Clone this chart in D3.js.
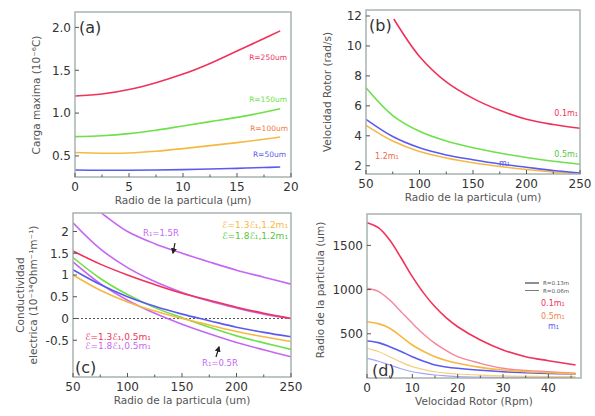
<!DOCTYPE html>
<html lang="es">
<head>
  <meta charset="UTF-8">
  <title>Cuatro paneles</title>
  <style>
    body { margin: 0; background: #fff; }
    svg { font-family: "DejaVu Sans", sans-serif; }
    .tick-label { fill: #333; font-size: 12px; }
    .axis-title { fill: #555; font-size: 10.5px; }
    .panel-tag { fill: #333; font-size: 16px; }
  </style>
</head>
<body>
  <div id="chart"></div>
  <script src="https://d3js.org/d3.v7.min.js"></script>
  <script>
    // Panel (a): carga maxima vs radio de la particula
    const aX = [0, 2.5, 5, 7.5, 10, 12.5, 15, 17.5, 19];
    const aR250 = [1.2, 1.222, 1.275, 1.355, 1.455, 1.58, 1.725, 1.87, 1.96];
    const aR150 = [0.725, 0.735, 0.76, 0.8, 0.85, 0.9, 0.95, 1.01, 1.05];
    const aR100 = [0.54, 0.532, 0.535, 0.555, 0.585, 0.62, 0.655, 0.695, 0.72];
    const aR50 = [0.335, 0.333, 0.333, 0.335, 0.34, 0.348, 0.355, 0.365, 0.37];

    // Panel (b): velocidad rotor vs radio
    const bX = [50, 75, 100, 125, 150, 175, 200, 225, 250];
    const bRedX = [76, 100, 125, 150, 175, 200, 225, 250];
    const b01 = [11.8, 9.3, 7.6, 6.5, 5.7, 5.1, 4.75, 4.5];
    const b05 = [7.2, 5.35, 4.3, 3.65, 3.2, 2.85, 2.55, 2.3, 2.1];
    const b1 = [5.1, 3.95, 3.2, 2.72, 2.4, 2.12, 1.9, 1.68, 1.52];
    const b12 = [4.7, 3.65, 2.95, 2.52, 2.2, 1.95, 1.75, 1.58, 1.46];

    // Panel (c): conductividad electrica vs radio
    const cX = [50, 75, 100, 125, 150, 175, 200, 225, 250];
    const cTopX = [70, 80, 100, 125, 150, 175, 200, 225, 250];
    const cR15 = [2.55, 2.35, 2.0, 1.72, 1.5, 1.3, 1.11, 0.95, 0.79];
    const cPurple = [2.2, 1.6, 1.17, 0.85, 0.6, 0.4, 0.24, 0.1, 0.0];
    const cRed = [1.55, 1.25, 1.0, 0.78, 0.58, 0.42, 0.26, 0.12, 0.0];
    const cGreen = [1.4, 0.92, 0.55, 0.25, 0.02, -0.2, -0.4, -0.56, -0.71];
    const cR05 = [1.3, 0.8, 0.42, 0.12, -0.13, -0.35, -0.55, -0.72, -0.88];
    const cBlue = [1.12, 0.78, 0.5, 0.28, 0.1, -0.05, -0.2, -0.32, -0.42];
    const cOrange = [1.0, 0.65, 0.38, 0.17, 0.0, -0.15, -0.3, -0.42, -0.53];

    // Panel (d): radio de la particula vs velocidad rotor
    const dX = [0, 2.5, 5, 7.5, 10, 12.5, 15, 17.5, 20, 25, 30, 35, 40, 46];
    const dRed13 = [1757, 1700, 1561, 1360, 1146, 960, 806, 680, 580, 430, 317, 241, 196, 147];
    const dRed06 = [1015, 980, 882, 750, 618, 495, 392, 310, 241, 166, 110, 85, 71, 53];
    const dOr13 = [637, 615, 562, 470, 373, 300, 241, 198, 166, 120, 90, 72, 60, 45];
    const dOr06 = [336, 300, 241, 180, 128, 95, 71, 55, 45, 32, 23, 19, 17, 15];
    const dBlue13 = [418, 400, 354, 300, 241, 190, 147, 125, 110, 88, 71, 60, 52, 45];
    const dBlue06 = [222, 190, 147, 105, 71, 50, 34, 24, 15, 10, 7, 5, 4, 3];

    const RED = "#f0325a", GREEN = "#6ee04a", ORANGE = "#f5b942", BLUE = "#5a5af0", PURPLE = "#c467f2";

    const svg = d3.select("#chart").append("svg")
      .attr("width", 595).attr("height", 416);

    function drawPanel(p) {
      const x = d3.scaleLinear().domain(p.xDomain).range([p.left, p.right]);
      const y = d3.scaleLinear().domain(p.yDomain).range([p.bottom, p.top]);
      const g = svg.append("g");

      g.append("clipPath").attr("id", "clip-" + p.id)
        .append("rect").attr("x", p.left).attr("y", p.top)
        .attr("width", p.right - p.left).attr("height", p.bottom - p.top);

      const body = g.append("g").attr("clip-path", `url(#clip-${p.id})`);
      const line = d3.line().x(d => x(d[0])).y(d => y(d[1])).curve(d3.curveCatmullRom.alpha(0.5));

      if (p.zeroLine) {
        body.append("line")
          .attr("x1", p.left).attr("x2", p.right)
          .attr("y1", y(0)).attr("y2", y(0))
          .attr("stroke", "#555").attr("stroke-width", 1.2)
          .attr("stroke-dasharray", "2,2");
      }

      p.series.forEach(s => {
        body.append("path")
          .datum(s.xs.map((v, i) => [v, s.ys[i]]))
          .attr("fill", "none")
          .attr("stroke", s.color)
          .attr("stroke-width", s.width || 1.6)
          .attr("stroke-opacity", s.opacity || 1)
          .attr("d", line);
      });

      // frame
      g.append("rect")
        .attr("x", p.left).attr("y", p.top)
        .attr("width", p.right - p.left).attr("height", p.bottom - p.top)
        .attr("fill", "none").attr("stroke", "#a3aeab").attr("stroke-width", 1.4);

      // ticks (inside) + labels
      const xMinor = d3.range(p.xDomain[0], p.xDomain[1] + 1e-9, p.xMinor);
      xMinor.forEach(v => {
        const major = p.xTicks.some(t => Math.abs(t - v) < 1e-9);
        g.append("line").attr("x1", x(v)).attr("x2", x(v))
          .attr("y1", p.bottom).attr("y2", p.bottom - (major ? 4 : 2.5))
          .attr("stroke", "#555").attr("stroke-width", 1);
      });
      p.xTicks.forEach(v => {
        g.append("text").attr("class", "tick-label")
          .attr("x", x(v)).attr("y", p.bottom + 14)
          .attr("text-anchor", "middle").text(p.xFormat(v));
      });
      p.yTicks.forEach(v => {
        g.append("line").attr("x1", p.left).attr("x2", p.left + 4)
          .attr("y1", y(v)).attr("y2", y(v))
          .attr("stroke", "#555").attr("stroke-width", 1);
        g.append("text").attr("class", "tick-label")
          .attr("x", p.left - 4).attr("y", y(v) + 4.3)
          .attr("text-anchor", "end").text(p.yFormat(v));
      });

      g.append("text").attr("class", "axis-title")
        .attr("x", (p.left + p.right) / 2).attr("y", p.bottom + 27)
        .attr("text-anchor", "middle").text(p.xTitle);

      p.yTitle.forEach((t, i) => {
        g.append("text").attr("class", "axis-title")
          .attr("transform", `translate(${p.yTitleX[i]},${p.yTitleY}) rotate(-90)`)
          .attr("text-anchor", "middle").text(t);
      });

      g.append("text").attr("class", "panel-tag")
        .attr("x", p.tag[1]).attr("y", p.tag[2]).text(p.tag[0]);

      (p.labels || []).forEach(l => {
        g.append("text")
          .attr("x", l.x).attr("y", l.y)
          .attr("text-anchor", l.anchor || "start")
          .attr("font-size", l.size || 7.5)
          .attr("fill", l.color).text(l.text);
      });

      return { x, y, g };
    }

    // (a)
    drawPanel({
      id: "a", left: 75, right: 291, top: 12, bottom: 177,
      xDomain: [0, 20], yDomain: [0.254, 2.18],
      xTicks: [0, 5, 10, 15, 20], xMinor: 2.5, xFormat: d3.format("d"),
      yTicks: [0.5, 1.0, 1.5, 2.0], yFormat: d3.format(".1f"),
      xTitle: "Radio de la particula (\u00b5m)",
      yTitle: ["Carga maxima (10\u207b\u2076C)"], yTitleX: [40], yTitleY: 95,
      tag: ["(a)", 79, 33],
      series: [
        { xs: aX, ys: aR250, color: RED },
        { xs: aX, ys: aR150, color: GREEN },
        { xs: aX, ys: aR100, color: ORANGE },
        { xs: aX, ys: aR50, color: BLUE }
      ],
      labels: [
        { text: "R=250um", x: 287, y: 60, anchor: "end", color: RED },
        { text: "R=150um", x: 287, y: 102, anchor: "end", color: GREEN },
        { text: "R=100um", x: 288, y: 131, anchor: "end", color: "#f07a3c" },
        { text: "R=50um", x: 286, y: 157, anchor: "end", color: BLUE }
      ]
    });

    // (b)
    drawPanel({
      id: "b", left: 366, right: 580, top: 10, bottom: 174,
      xDomain: [50, 250], yDomain: [1.45, 12.4],
      xTicks: [50, 100, 150, 200, 250], xMinor: 25, xFormat: d3.format("d"),
      yTicks: [2, 4, 6, 8, 10, 12], yFormat: d3.format("d"),
      xTitle: "Radio de la particula (um)",
      yTitle: ["Velocidad Rotor  (rad/s)"], yTitleX: [331], yTitleY: 92,
      tag: ["(b)", 369, 31],
      series: [
        { xs: bRedX, ys: b01, color: RED },
        { xs: bX, ys: b05, color: GREEN },
        { xs: bX, ys: b12, color: ORANGE },
        { xs: bX, ys: b1, color: BLUE }
      ],
      labels: [
        { text: "0.1m\u2081", x: 578, y: 116, anchor: "end", color: RED, size: 8 },
        { text: "0.5m\u2081", x: 578, y: 157, anchor: "end", color: "#55c83a", size: 8 },
        { text: "m\u2081", x: 499, y: 166, color: BLUE, size: 8 },
        { text: "1.2m\u2081", x: 375, y: 159, color: "#f06a4a", size: 8 }
      ]
    });

    // (c)
    const pc = drawPanel({
      id: "c", left: 73, right: 291, top: 213, bottom: 377,
      xDomain: [50, 250], yDomain: [-1.345, 2.425],
      xTicks: [50, 100, 150, 200, 250], xMinor: 25, xFormat: d3.format("d"),
      yTicks: [-0.5, 0, 0.5, 1, 1.5, 2], yFormat: v => String(v),
      xTitle: "Radio de la particula (um)",
      yTitle: ["Conductividad", "electrica (10\u207b\u00b9\u2074Ohm\u207b\u00b9m\u207b\u00b9)"],
      yTitleX: [24, 37], yTitleY: 295,
      tag: ["(c)", 75, 373],
      zeroLine: true,
      series: [
        { xs: cTopX, ys: cR15, color: PURPLE },
        { xs: cX, ys: cPurple, color: PURPLE },
        { xs: cX, ys: cRed, color: RED },
        { xs: cX, ys: cR05, color: PURPLE },
        { xs: cX, ys: cGreen, color: GREEN },
        { xs: cX, ys: cOrange, color: ORANGE },
        { xs: cX, ys: cBlue, color: BLUE }
      ],
      labels: [
        { text: "\u2130=1.3\u2130\u2081,1.2m\u2081", x: 288, y: 228, anchor: "end", color: ORANGE, size: 9 },
        { text: "\u2130=1.8\u2130\u2081,1.2m\u2081", x: 288, y: 239, anchor: "end", color: "#55c83a", size: 9 },
        { text: "\u2130=1.3\u2130\u2081,0.5m\u2081", x: 85, y: 340, color: RED, size: 9 },
        { text: "\u2130=1.8\u2130\u2081,0.5m\u2081", x: 85, y: 349, color: PURPLE, size: 9 },
        { text: "R\u2081=1.5R", x: 143, y: 236, color: PURPLE, size: 8.5 },
        { text: "R\u2081=0.5R", x: 202, y: 366, color: PURPLE, size: 8.5 }
      ]
    });

    // arrows in (c)
    const defs = svg.append("defs");
    defs.append("marker").attr("id", "arrow")
      .attr("viewBox", "0 0 10 10").attr("refX", 8).attr("refY", 5)
      .attr("markerWidth", 5).attr("markerHeight", 5).attr("orient", "auto")
      .append("path").attr("d", "M0,0L10,5L0,10z").attr("fill", "#222");
    [[175, 243, 173, 253], [216, 357, 219, 347]].forEach(a => {
      pc.g.append("line")
        .attr("x1", a[0]).attr("y1", a[1]).attr("x2", a[2]).attr("y2", a[3])
        .attr("stroke", "#222").attr("stroke-width", 1.2)
        .attr("marker-end", "url(#arrow)");
    });

    // (d)
    const pd = drawPanel({
      id: "d", left: 367, right: 581, top: 214, bottom: 378,
      xDomain: [0, 47.2], yDomain: [0, 1855],
      xTicks: [0, 10, 20, 30, 40], xMinor: 5, xFormat: d3.format("d"),
      yTicks: [500, 1000, 1500], yFormat: d3.format("d"),
      xTitle: "Velocidad Rotor (Rpm)",
      yTitle: ["Radio de la particula (um)"], yTitleX: [324], yTitleY: 290,
      tag: ["(d)", 372, 376],
      series: [
        { xs: dX, ys: dBlue06, color: BLUE, width: 1.2, opacity: 0.55 },
        { xs: dX, ys: dOr06, color: ORANGE, width: 1.2, opacity: 0.7 },
        { xs: dX, ys: dRed06, color: RED, width: 1.4, opacity: 0.6 },
        { xs: dX, ys: dBlue13, color: BLUE },
        { xs: dX, ys: dOr13, color: ORANGE },
        { xs: dX, ys: dRed13, color: RED }
      ],
      labels: [
        { text: "R=0.13m", x: 543, y: 285, color: "#555", size: 5.5 },
        { text: "R=0.06m", x: 543, y: 292.5, color: "#555", size: 5.5 },
        { text: "0.1m\u2081", x: 541, y: 306, color: RED, size: 8 },
        { text: "0.5m\u2081", x: 541, y: 319, color: "#f0844a", size: 8 },
        { text: "m\u2081", x: 548, y: 329, color: BLUE, size: 8 }
      ]
    });
    pd.g.append("line").attr("x1", 525).attr("x2", 539).attr("y1", 283).attr("y2", 283)
      .attr("stroke", "#444").attr("stroke-width", 1.2);
    pd.g.append("line").attr("x1", 525).attr("x2", 539).attr("y1", 290.5).attr("y2", 290.5)
      .attr("stroke", "#444").attr("stroke-width", 0.7);
  </script>
</body>
</html>
